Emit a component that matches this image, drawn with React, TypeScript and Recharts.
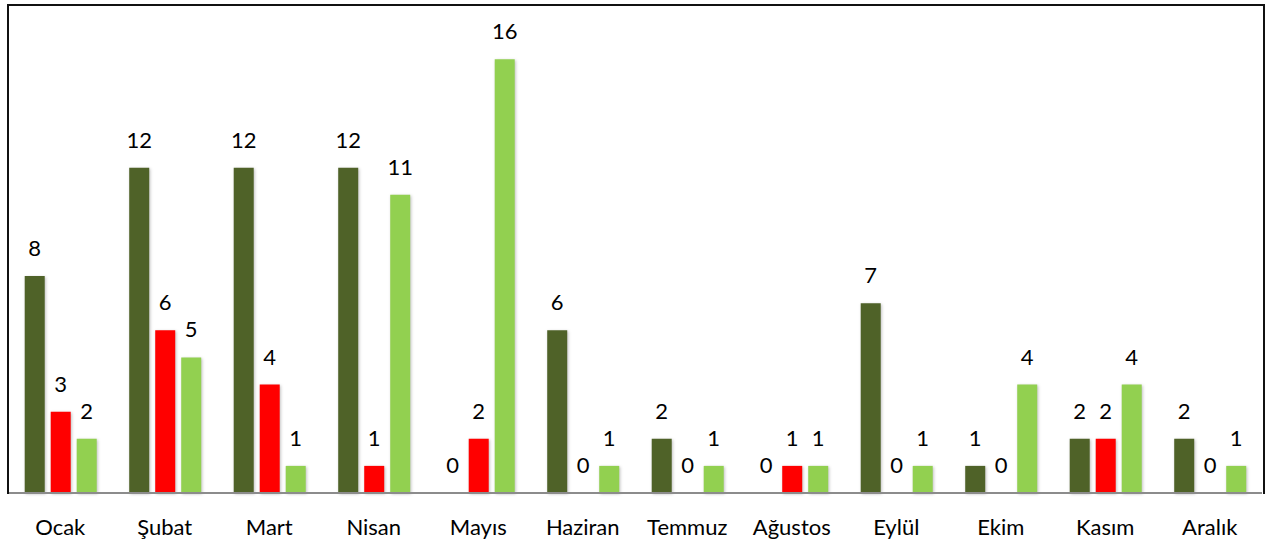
import { BarChart, Bar, XAxis, YAxis, LabelList } from "recharts";

const months = ["Ocak", "Şubat", "Mart", "Nisan", "Mayıs", "Haziran", "Temmuz", "Ağustos", "Eylül", "Ekim", "Kasım", "Aralık"];
const seriesA = [8, 12, 12, 12, 0, 6, 2, 0, 7, 1, 2, 2];
const seriesB = [3, 6, 4, 1, 2, 0, 0, 1, 0, 0, 2, 0];
const seriesC = [2, 5, 1, 11, 16, 1, 1, 1, 1, 4, 4, 1];

const data = months.map((m, i) => ({ name: m, a: seriesA[i], b: seriesB[i], c: seriesC[i] }));

const font = "Lato, 'Open Sans', sans-serif";
const labelStyle = { fontSize: 22, fill: "#000", fontFamily: font };
const shadowCss = `.recharts-bar-rectangle path { filter: drop-shadow(1px 1px 1.5px rgba(0,0,0,0.25)); }`;

export default function App() {
  return (
    <div style={{ position: "absolute", left: 0, top: 0, width: 1266, height: 548 }}>
      <style>{shadowCss}</style>
      <BarChart
        width={1266}
        height={548}
        data={data}
        margin={{ top: 5, right: 4, left: 8, bottom: 0 }}
        barCategoryGap="16%"
        barGap={6}
      >
        <XAxis
          dataKey="name"
          height={55}
          tickLine={false}
          stroke="#8c8c8c"
          strokeWidth={2}
          tickMargin={20}
          tick={{ fontSize: 22, fill: "#000", fontFamily: font }}
        />
        <YAxis hide domain={[0, 18]} />
        <Bar dataKey="a" fill="#4F6228" minPointSize={0.01} isAnimationActive={false}>
          <LabelList dataKey="a" position="top" offset={20} style={labelStyle} />
        </Bar>
        <Bar dataKey="b" fill="#FF0000" minPointSize={0.01} isAnimationActive={false}>
          <LabelList dataKey="b" position="top" offset={20} style={labelStyle} />
        </Bar>
        <Bar dataKey="c" fill="#92D050" minPointSize={0.01} isAnimationActive={false}>
          <LabelList dataKey="c" position="top" offset={20} style={labelStyle} />
        </Bar>
      </BarChart>
      <div
        style={{
          position: "absolute",
          left: 7,
          top: 4,
          width: 1254,
          height: 488,
          borderLeft: "2px solid #111",
          borderTop: "2px solid #111",
          borderRight: "2px solid #111",
          pointerEvents: "none",
        }}
      />
    </div>
  );
}
